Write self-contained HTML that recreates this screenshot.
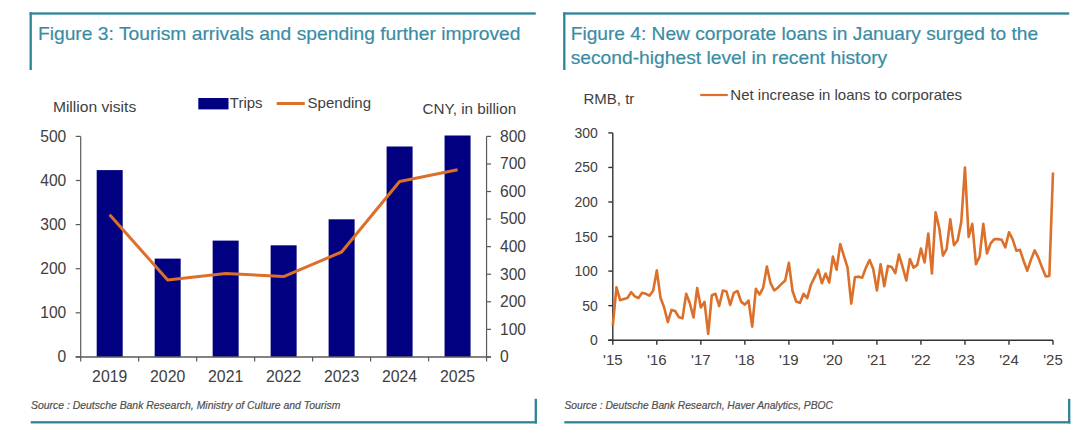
<!DOCTYPE html>
<html><head><meta charset="utf-8"><style>
html,body{margin:0;padding:0;background:#fff;width:1080px;height:435px;overflow:hidden}
svg{display:block;font-family:"Liberation Sans",sans-serif}
</style></head><body>
<svg width="1080" height="435" viewBox="0 0 1080 435">
<rect width="1080" height="435" fill="#fff"/>
<rect x="29.55" y="12.35" width="506.24999999999994" height="2.3" fill="#2f8397"/>
<rect x="29.55" y="12.35" width="2.3" height="57.65" fill="#2f8397"/>
<rect x="30.7" y="421.15000000000003" width="506.24999999999994" height="2.3" fill="#2f8397"/>
<rect x="534.65" y="398.8" width="2.3" height="24.649999999999977" fill="#2f8397"/>
<rect x="563.15" y="12.35" width="506.05000000000007" height="2.3" fill="#2f8397"/>
<rect x="563.15" y="12.35" width="2.3" height="57.65" fill="#2f8397"/>
<rect x="564.3" y="421.15000000000003" width="506.05000000000007" height="2.3" fill="#2f8397"/>
<rect x="1068.05" y="398.8" width="2.3" height="24.649999999999977" fill="#2f8397"/>
<text x="37.9" y="39.7" font-size="19" fill="#3a8ca5" stroke="#3a8ca5" stroke-width="0.2" textLength="482.6" lengthAdjust="spacingAndGlyphs">Figure 3: Tourism arrivals and spending further improved</text>
<text x="570.7" y="39.6" font-size="19" fill="#3a8ca5" stroke="#3a8ca5" stroke-width="0.2" textLength="467.4" lengthAdjust="spacingAndGlyphs">Figure 4: New corporate loans in January surged to the</text>
<text x="570.7" y="63.8" font-size="19" fill="#3a8ca5" stroke="#3a8ca5" stroke-width="0.2" textLength="316.5" lengthAdjust="spacingAndGlyphs">second-highest level in recent history</text>
<text x="31" y="408.7" font-size="10.4" font-style="italic" fill="#505050" stroke="#505050" stroke-width="0.2" textLength="309.5" lengthAdjust="spacingAndGlyphs">Source : Deutsche Bank Research, Ministry of Culture and Tourism</text>
<text x="564.4" y="408.7" font-size="10.3" font-style="italic" fill="#505050" stroke="#505050" stroke-width="0.2" textLength="268.5" lengthAdjust="spacingAndGlyphs">Source : Deutsche Bank Research, Haver Analytics, PBOC</text>
<text x="52.9" y="111.8" font-size="15" fill="#404040" textLength="83.3" lengthAdjust="spacingAndGlyphs">Million visits</text>
<text x="422.5" y="114" font-size="15" fill="#404040" textLength="93.7" lengthAdjust="spacingAndGlyphs">CNY, in billion</text>
<rect x="198.3" y="98" width="30.2" height="11.4" fill="#000080"/>
<text x="229.8" y="108.1" font-size="15" fill="#404040">Trips</text>
<line x1="276.7" y1="103.5" x2="304.8" y2="103.5" stroke="#dc702a" stroke-width="3"/>
<text x="307.6" y="108.1" font-size="15" fill="#404040">Spending</text>
<rect x="96.69" y="170.1" width="26" height="186.80" fill="#000080"/>
<rect x="154.67" y="258.6" width="26" height="98.30" fill="#000080"/>
<rect x="212.65" y="240.6" width="26" height="116.30" fill="#000080"/>
<rect x="270.63" y="245.3" width="26" height="111.60" fill="#000080"/>
<rect x="328.61" y="219.3" width="26" height="137.60" fill="#000080"/>
<rect x="386.59" y="146.5" width="26" height="210.40" fill="#000080"/>
<rect x="444.57" y="135.5" width="26" height="221.40" fill="#000080"/>
<line x1="80.7" y1="136.4" x2="80.7" y2="356.9" stroke="#5a5a5a" stroke-width="1.2"/>
<line x1="486.55999999999995" y1="136.4" x2="486.55999999999995" y2="356.9" stroke="#5a5a5a" stroke-width="1.2"/>
<line x1="75.7" y1="356.9" x2="491.05999999999995" y2="356.9" stroke="#5a5a5a" stroke-width="1.5"/>
<line x1="75.7" y1="356.90" x2="80.7" y2="356.90" stroke="#5a5a5a" stroke-width="1.2"/>
<text x="66.3" y="362.30" font-size="15.6" fill="#404040" text-anchor="end">0</text>
<line x1="75.7" y1="312.80" x2="80.7" y2="312.80" stroke="#5a5a5a" stroke-width="1.2"/>
<text x="66.3" y="318.20" font-size="15.6" fill="#404040" text-anchor="end">100</text>
<line x1="75.7" y1="268.70" x2="80.7" y2="268.70" stroke="#5a5a5a" stroke-width="1.2"/>
<text x="66.3" y="274.10" font-size="15.6" fill="#404040" text-anchor="end">200</text>
<line x1="75.7" y1="224.60" x2="80.7" y2="224.60" stroke="#5a5a5a" stroke-width="1.2"/>
<text x="66.3" y="230.00" font-size="15.6" fill="#404040" text-anchor="end">300</text>
<line x1="75.7" y1="180.50" x2="80.7" y2="180.50" stroke="#5a5a5a" stroke-width="1.2"/>
<text x="66.3" y="185.90" font-size="15.6" fill="#404040" text-anchor="end">400</text>
<line x1="75.7" y1="136.40" x2="80.7" y2="136.40" stroke="#5a5a5a" stroke-width="1.2"/>
<text x="66.3" y="141.80" font-size="15.6" fill="#404040" text-anchor="end">500</text>
<line x1="486.55999999999995" y1="356.90" x2="491.05999999999995" y2="356.90" stroke="#5a5a5a" stroke-width="1.2"/>
<text x="500.0" y="362.30" font-size="15.6" fill="#404040">0</text>
<line x1="486.55999999999995" y1="329.34" x2="491.05999999999995" y2="329.34" stroke="#5a5a5a" stroke-width="1.2"/>
<text x="500.0" y="334.74" font-size="15.6" fill="#404040">100</text>
<line x1="486.55999999999995" y1="301.77" x2="491.05999999999995" y2="301.77" stroke="#5a5a5a" stroke-width="1.2"/>
<text x="500.0" y="307.17" font-size="15.6" fill="#404040">200</text>
<line x1="486.55999999999995" y1="274.21" x2="491.05999999999995" y2="274.21" stroke="#5a5a5a" stroke-width="1.2"/>
<text x="500.0" y="279.61" font-size="15.6" fill="#404040">300</text>
<line x1="486.55999999999995" y1="246.65" x2="491.05999999999995" y2="246.65" stroke="#5a5a5a" stroke-width="1.2"/>
<text x="500.0" y="252.05" font-size="15.6" fill="#404040">400</text>
<line x1="486.55999999999995" y1="219.09" x2="491.05999999999995" y2="219.09" stroke="#5a5a5a" stroke-width="1.2"/>
<text x="500.0" y="224.49" font-size="15.6" fill="#404040">500</text>
<line x1="486.55999999999995" y1="191.53" x2="491.05999999999995" y2="191.53" stroke="#5a5a5a" stroke-width="1.2"/>
<text x="500.0" y="196.93" font-size="15.6" fill="#404040">600</text>
<line x1="486.55999999999995" y1="163.96" x2="491.05999999999995" y2="163.96" stroke="#5a5a5a" stroke-width="1.2"/>
<text x="500.0" y="169.36" font-size="15.6" fill="#404040">700</text>
<line x1="486.55999999999995" y1="136.40" x2="491.05999999999995" y2="136.40" stroke="#5a5a5a" stroke-width="1.2"/>
<text x="500.0" y="141.80" font-size="15.6" fill="#404040">800</text>
<line x1="80.70" y1="356.9" x2="80.70" y2="361.4" stroke="#5a5a5a" stroke-width="1.2"/>
<line x1="138.68" y1="356.9" x2="138.68" y2="361.4" stroke="#5a5a5a" stroke-width="1.2"/>
<line x1="196.66" y1="356.9" x2="196.66" y2="361.4" stroke="#5a5a5a" stroke-width="1.2"/>
<line x1="254.64" y1="356.9" x2="254.64" y2="361.4" stroke="#5a5a5a" stroke-width="1.2"/>
<line x1="312.62" y1="356.9" x2="312.62" y2="361.4" stroke="#5a5a5a" stroke-width="1.2"/>
<line x1="370.60" y1="356.9" x2="370.60" y2="361.4" stroke="#5a5a5a" stroke-width="1.2"/>
<line x1="428.58" y1="356.9" x2="428.58" y2="361.4" stroke="#5a5a5a" stroke-width="1.2"/>
<line x1="486.56" y1="356.9" x2="486.56" y2="361.4" stroke="#5a5a5a" stroke-width="1.2"/>
<text x="109.69" y="382.2" font-size="15.8" fill="#404040" text-anchor="middle">2019</text>
<text x="167.67" y="382.2" font-size="15.8" fill="#404040" text-anchor="middle">2020</text>
<text x="225.65" y="382.2" font-size="15.8" fill="#404040" text-anchor="middle">2021</text>
<text x="283.63" y="382.2" font-size="15.8" fill="#404040" text-anchor="middle">2022</text>
<text x="341.61" y="382.2" font-size="15.8" fill="#404040" text-anchor="middle">2023</text>
<text x="399.59" y="382.2" font-size="15.8" fill="#404040" text-anchor="middle">2024</text>
<text x="457.57" y="382.2" font-size="15.8" fill="#404040" text-anchor="middle">2025</text>
<polyline points="109.69,214.8 167.67,280 225.65,273.5 283.63,276.6 341.61,252 399.59,181.5 457.57,169.7" fill="none" stroke="#dc702a" stroke-width="3" stroke-linejoin="round"/>
<text x="583.5" y="103.6" font-size="15" fill="#404040">RMB, tr</text>
<line x1="700.2" y1="95" x2="727.8" y2="95" stroke="#dc702a" stroke-width="2.2"/>
<text x="730.3" y="100.1" font-size="15" fill="#404040">Net increase in loans to corporates</text>
<line x1="612.8" y1="132.90" x2="612.8" y2="340.2" stroke="#333" stroke-width="1.4"/>
<line x1="608.3" y1="340.2" x2="1053.00" y2="340.2" stroke="#333" stroke-width="1.4"/>
<line x1="608.3" y1="340.20" x2="612.8" y2="340.20" stroke="#333" stroke-width="1.4"/>
<text x="597.8" y="345.20" font-size="14" fill="#404040" text-anchor="end">0</text>
<line x1="608.3" y1="305.65" x2="612.8" y2="305.65" stroke="#333" stroke-width="1.4"/>
<text x="597.8" y="310.65" font-size="14" fill="#404040" text-anchor="end">50</text>
<line x1="608.3" y1="271.10" x2="612.8" y2="271.10" stroke="#333" stroke-width="1.4"/>
<text x="597.8" y="276.10" font-size="14" fill="#404040" text-anchor="end">100</text>
<line x1="608.3" y1="236.55" x2="612.8" y2="236.55" stroke="#333" stroke-width="1.4"/>
<text x="597.8" y="241.55" font-size="14" fill="#404040" text-anchor="end">150</text>
<line x1="608.3" y1="202.00" x2="612.8" y2="202.00" stroke="#333" stroke-width="1.4"/>
<text x="597.8" y="207.00" font-size="14" fill="#404040" text-anchor="end">200</text>
<line x1="608.3" y1="167.45" x2="612.8" y2="167.45" stroke="#333" stroke-width="1.4"/>
<text x="597.8" y="172.45" font-size="14" fill="#404040" text-anchor="end">250</text>
<line x1="608.3" y1="132.90" x2="612.8" y2="132.90" stroke="#333" stroke-width="1.4"/>
<text x="597.8" y="137.90" font-size="14" fill="#404040" text-anchor="end">300</text>
<line x1="612.80" y1="340.2" x2="612.80" y2="344.7" stroke="#333" stroke-width="1.4"/>
<text x="612.80" y="364.9" font-size="15" fill="#404040" text-anchor="middle">'15</text>
<line x1="656.82" y1="340.2" x2="656.82" y2="344.7" stroke="#333" stroke-width="1.4"/>
<text x="656.82" y="364.9" font-size="15" fill="#404040" text-anchor="middle">'16</text>
<line x1="700.84" y1="340.2" x2="700.84" y2="344.7" stroke="#333" stroke-width="1.4"/>
<text x="700.84" y="364.9" font-size="15" fill="#404040" text-anchor="middle">'17</text>
<line x1="744.86" y1="340.2" x2="744.86" y2="344.7" stroke="#333" stroke-width="1.4"/>
<text x="744.86" y="364.9" font-size="15" fill="#404040" text-anchor="middle">'18</text>
<line x1="788.88" y1="340.2" x2="788.88" y2="344.7" stroke="#333" stroke-width="1.4"/>
<text x="788.88" y="364.9" font-size="15" fill="#404040" text-anchor="middle">'19</text>
<line x1="832.90" y1="340.2" x2="832.90" y2="344.7" stroke="#333" stroke-width="1.4"/>
<text x="832.90" y="364.9" font-size="15" fill="#404040" text-anchor="middle">'20</text>
<line x1="876.92" y1="340.2" x2="876.92" y2="344.7" stroke="#333" stroke-width="1.4"/>
<text x="876.92" y="364.9" font-size="15" fill="#404040" text-anchor="middle">'21</text>
<line x1="920.94" y1="340.2" x2="920.94" y2="344.7" stroke="#333" stroke-width="1.4"/>
<text x="920.94" y="364.9" font-size="15" fill="#404040" text-anchor="middle">'22</text>
<line x1="964.96" y1="340.2" x2="964.96" y2="344.7" stroke="#333" stroke-width="1.4"/>
<text x="964.96" y="364.9" font-size="15" fill="#404040" text-anchor="middle">'23</text>
<line x1="1008.98" y1="340.2" x2="1008.98" y2="344.7" stroke="#333" stroke-width="1.4"/>
<text x="1008.98" y="364.9" font-size="15" fill="#404040" text-anchor="middle">'24</text>
<line x1="1053.00" y1="340.2" x2="1053.00" y2="344.7" stroke="#333" stroke-width="1.4"/>
<text x="1053.00" y="364.9" font-size="15" fill="#404040" text-anchor="middle">'25</text>
<polyline points="612.80,325.69 616.47,287.27 620.14,300.19 623.80,299.09 627.47,298.05 631.14,292.11 634.81,296.32 638.48,298.05 642.15,292.80 645.81,293.83 649.48,295.63 653.15,290.79 656.82,270.41 660.49,297.70 664.16,307.45 667.82,322.10 671.49,309.93 675.16,310.97 678.83,317.19 682.50,318.36 686.17,293.83 689.83,303.23 693.50,317.47 697.17,287.96 700.84,307.45 704.51,301.92 708.18,333.91 711.84,295.22 715.51,293.83 719.18,306.06 722.85,290.52 726.52,291.48 730.19,304.96 733.86,292.80 737.52,291.00 741.19,301.92 744.86,304.61 748.53,300.54 752.20,326.59 755.87,288.86 759.53,294.52 763.20,287.61 766.87,266.54 770.54,283.19 774.21,290.45 777.88,287.68 781.54,283.88 785.21,280.43 788.88,262.81 792.55,291.00 796.22,301.50 799.88,302.89 803.55,293.83 807.22,298.05 810.89,284.78 814.56,277.32 818.23,269.72 821.89,283.19 825.56,273.52 829.23,282.50 832.90,256.59 836.57,269.72 840.24,244.01 843.90,255.83 847.57,267.64 851.24,303.58 854.91,277.32 858.58,276.63 862.25,277.66 865.91,267.64 869.58,260.04 873.25,269.03 876.92,290.45 880.59,264.19 884.26,286.30 887.92,265.92 891.59,266.95 895.26,273.17 898.93,254.52 902.60,266.95 906.27,280.43 909.93,258.94 913.60,267.64 917.27,264.88 920.94,248.64 924.61,262.46 928.28,233.44 931.94,273.52 935.61,212.37 939.28,228.26 942.95,255.69 946.62,249.13 950.29,219.41 953.95,245.19 957.62,240.49 961.29,221.76 964.96,167.45 968.63,236.96 972.30,223.84 975.96,264.19 979.63,256.59 983.30,223.84 986.97,253.48 990.64,243.32 994.31,239.11 997.97,239.11 1001.64,239.80 1005.31,247.40 1008.98,232.20 1012.65,239.31 1016.32,250.72 1019.98,249.82 1023.65,261.01 1027.32,270.69 1030.99,259.63 1034.66,250.37 1038.33,257.63 1041.99,267.30 1045.66,276.35 1049.33,275.94 1053.00,172.49" fill="none" stroke="#dc702a" stroke-width="2.6" stroke-linejoin="round"/>
</svg>
</body></html>
